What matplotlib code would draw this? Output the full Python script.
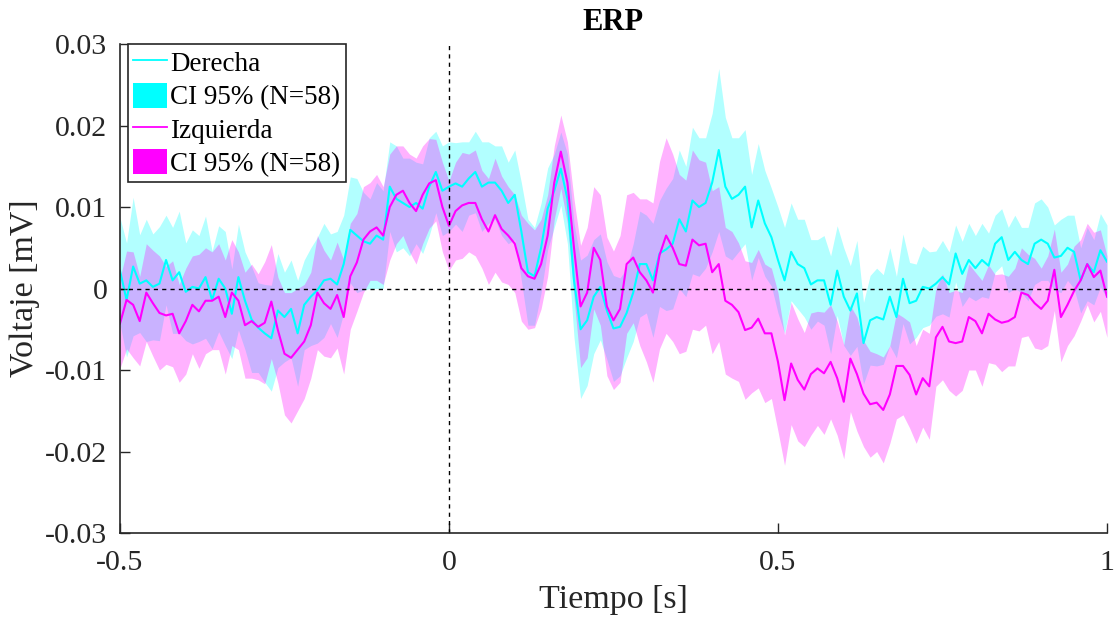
import numpy as np
import matplotlib
matplotlib.use("Agg")
import matplotlib.pyplot as plt
from matplotlib.lines import Line2D
from matplotlib.patches import Patch

plt.rcParams['font.family'] = ['Liberation Serif', 'DejaVu Serif']
plt.rcParams['axes.unicode_minus'] = False

# tiempo (s), paso de 10 ms
t_start, t_step = -0.5, 0.01

# medias (x1e-3 mV)
derecha = [
    2.2, -1.4, 2.7, 0.6, 1.0, 0.2, 0.6, 3.5, 1.0, 2.0,
    -0.4, 0.2, 0.0, 1.4, -1.4, 1.2, 0.0, -3.1, 1.4, -1.5,
    -3.8, -4.8, -5.5, -6.1, -2.7, -3.5, -2.5, -5.5, -2.0, -1.0,
    -0.2, 1.0, 1.2, 0.5, 3.0, 7.2, 6.5, 5.8, 5.5, 6.5,
    6.0, 12.5, 11.0, 10.5, 10.0, 10.5, 9.8, 12.5, 14.3, 12.0,
    12.5, 12.9, 12.5, 13.5, 14.3, 12.5, 13.0, 13.0, 12.0, 10.5,
    11.5, 7.0, 2.0, 1.5, 5.0, 9.8, 12.0, 14.7, 11.0, 1.0,
    -5.0, -3.9, -1.0, 0.2, -2.7, -4.9, -4.7, -3.0, -0.5, 3.0,
    3.0, 1.0, 4.3, 4.8, 5.5, 8.5, 7.0, 10.8, 10.0, 10.5,
    13.0, 17.0, 12.5, 11.0, 11.5, 12.5, 7.5, 10.8, 8.0, 6.3,
    3.5, 1.0, 4.5, 3.0, 2.5, 0.5, 1.0, 1.0, -2.0, 2.2,
    -1.0, -2.7, -0.6, -6.7, -3.9, -3.5, -3.8, -1.0, -3.5, 1.2,
    -1.8, -1.5, 0.2, 0.0, 0.6, 1.4, 0.5, 4.3, 1.8, 3.5,
    2.5, 3.5, 2.8, 5.5, 6.3, 3.5, 4.5, 3.5, 3.0, 5.5,
    6.0, 5.5, 3.8, 4.0, 5.0, 4.5, 1.0, 3.0, 2.0, 4.7,
    3.3,
]
izquierda = [
    -4.3, -1.4, -2.0, -4.0, -0.5, -1.8, -3.0, -3.3, -3.1, -5.5,
    -4.0, -2.0, -2.8, -1.5, -1.5, -1.0, -3.5, -0.5, -1.5, -4.5,
    -4.0, -4.7, -4.2, -1.6, -5.1, -8.0, -8.5, -7.5, -6.5, -4.5,
    -0.5, -1.8, -2.5, -0.8, -3.5, 1.5, 3.2, 6.0, 7.0, 7.5,
    6.5, 10.0, 11.5, 12.0, 10.5, 9.5, 11.5, 12.9, 13.3, 10.0,
    7.7, 9.5, 10.2, 10.5, 10.5, 8.5, 7.0, 9.0, 7.3, 6.5,
    5.5, 2.5, 1.5, 1.2, 3.0, 6.5, 13.0, 16.8, 13.0, 5.0,
    -2.2, -0.5, 5.0, 3.5, -2.2, -3.9, -2.5, 3.0, 3.8, 2.0,
    1.0, -0.5, 4.1, 6.5, 5.0, 3.0, 2.8, 6.0, 5.3, 5.5,
    2.0, 3.0, -1.5, -2.0, -2.9, -5.1, -4.8, -3.7, -5.5, -5.5,
    -9.0, -13.7, -9.2, -11.2, -12.4, -10.5, -9.8, -10.4, -9.0, -11.0,
    -13.9, -8.6, -10.5, -12.9, -14.2, -14.0, -14.9, -13.0, -9.5, -9.5,
    -10.6, -13.0, -11.0, -12.0, -6.0, -4.7, -6.5, -6.7, -6.5, -3.5,
    -4.0, -5.5, -3.1, -3.8, -4.2, -4.0, -3.5, -0.5, -0.8, -1.8,
    -2.5, -1.5, 2.3, -3.5, -2.0, -0.3, 1.0, 3.0, 1.4, 2.2,
    -1.0,
]

# semiancho del intervalo de confianza 95% (x1e-3 mV)
ci_derecha = [
    6.5, 7.0, 8.5, 6.0, 7.5, 6.5, 7.0, 5.5, 6.5, 7.5,
    6.0, 7.0, 6.5, 7.5, 6.0, 6.5, 7.0, 5.5, 6.5, 6.0,
    6.5, 5.5, 6.0, 6.5, 7.0, 5.5, 6.0, 6.5, 5.5, 6.0,
    6.5, 7.0, 5.5, 6.5, 6.0, 6.5, 7.0, 6.0, 5.5, 6.5,
    6.0, 5.5, 6.5, 5.5, 6.0, 5.0, 5.5, 6.0, 5.0, 5.5,
    5.5, 5.0, 5.5, 4.5, 5.0, 5.5, 5.0, 4.5, 5.5, 5.0,
    5.5, 6.0, 6.5, 6.0, 5.5, 5.0, 4.5, 4.5, 5.5, 7.0,
    8.5, 8.0, 7.0, 6.5, 6.0, 6.5, 6.0, 5.5, 6.0, 6.5,
    6.0, 7.0, 6.5, 7.5, 8.0, 8.5, 8.0, 9.0, 8.5, 8.0,
    8.5, 10.0, 8.5, 7.5, 7.0, 7.0, 6.5, 7.0, 6.5, 6.0,
    6.5, 6.5, 6.0, 5.5, 6.0, 5.5, 5.0, 5.5, 6.0, 5.5,
    6.0, 5.5, 6.5, 5.0, 5.5, 6.0, 5.5, 6.0, 5.0, 5.5,
    5.0, 4.5, 5.0, 4.5, 4.0, 4.5, 4.0, 3.5, 4.0, 4.5,
    4.0, 4.5, 4.0, 3.5, 3.5, 4.0, 4.5, 4.0, 4.5, 5.0,
    5.0, 4.5, 4.0, 4.5, 4.0, 4.5, 4.0, 4.5, 4.0, 4.5,
    4.5,
]
ci_izquierda = [
    5.5, 6.0, 6.5, 5.5, 6.0, 6.5, 7.0, 6.0, 6.5, 6.0,
    6.5, 6.0, 7.0, 6.5, 6.0, 6.5, 7.0, 6.5, 6.0, 6.5,
    7.0, 6.5, 7.5, 7.0, 6.5, 7.5, 8.0, 7.5, 7.0, 6.5,
    7.0, 6.5, 6.0, 6.5, 7.0, 6.5, 6.0, 6.5, 6.0, 6.5,
    6.0, 6.5, 6.0, 5.5, 6.0, 6.5, 6.0, 5.5, 5.0, 5.5,
    5.5, 6.0, 6.5, 6.0, 6.5, 6.0, 6.5, 7.0, 6.5, 6.0,
    6.0, 6.5, 6.5, 6.0, 5.5, 5.0, 4.5, 4.5, 5.0, 6.0,
    7.5, 8.0, 7.5, 8.0, 8.5, 8.5, 9.0, 8.5, 8.0, 9.0,
    10.0, 11.0, 11.5, 12.0, 11.5, 11.0, 10.5, 11.0, 10.5, 10.0,
    10.0, 9.5, 9.0, 9.0, 8.5, 8.5, 8.0, 8.5, 8.5, 8.0,
    8.5, 8.0, 7.5, 7.5, 7.0, 7.5, 7.0, 7.5, 7.0, 7.0,
    7.0, 6.5, 7.0, 6.5, 6.5, 6.0, 6.5, 6.0, 6.5, 6.0,
    6.5, 6.0, 6.0, 6.5, 6.0, 6.5, 6.0, 6.5, 6.0, 6.5,
    6.0, 6.5, 6.0, 5.5, 6.0, 5.5, 6.0, 5.5, 5.0, 5.5,
    5.0, 5.5, 5.0, 5.5, 5.0, 5.5, 5.0, 5.0, 5.5, 5.0,
    5.0,
]

x_ticks = [-0.5, 0, 0.5, 1]
x_labels = ['-0.5', '0', '0.5', '1']
y_ticks = [-0.03, -0.02, -0.01, 0, 0.01, 0.02, 0.03]
y_labels = ['-0.03', '-0.02', '-0.01', '0', '0.01', '0.02', '0.03']

t = t_start + t_step * np.arange(len(derecha))
m_d = np.array(derecha) * 1e-3
m_i = np.array(izquierda) * 1e-3
h_d = np.array(ci_derecha) * 1e-3
h_i = np.array(ci_izquierda) * 1e-3

fig = plt.figure(figsize=(11.15, 6.21), dpi=100)
ax = fig.add_axes([0.1076, 0.1417, 0.8852, 0.7874])

ax.fill_between(t, m_d - h_d, m_d + h_d, color=(0, 1, 1), alpha=0.3, lw=0)
ax.plot(t, m_d, color=(0, 1, 1), lw=1.5)
ax.fill_between(t, m_i - h_i, m_i + h_i, color=(1, 0, 1), alpha=0.3, lw=0)
ax.plot(t, m_i, color=(1, 0, 1), lw=1.5)

ax.axvline(0, color='k', ls=(0, (3, 3)), lw=1)
ax.axhline(0, color='k', ls=(0, (3, 3)), lw=1)

ax.set_xlim(-0.5, 1)
ax.set_ylim(-0.03, 0.03)
ax.set_xticks(x_ticks)
ax.set_xticklabels(x_labels)
ax.set_yticks(y_ticks)
ax.set_yticklabels(y_labels)
ax.tick_params(direction='in', length=7, width=1, labelsize=21.5, colors='#262626',
               labelcolor='#262626')
ax.tick_params(axis='x', pad=12)
ax.tick_params(axis='y', pad=9)

for side in ('top', 'right'):
    ax.spines[side].set_visible(False)
for side in ('left', 'bottom'):
    ax.spines[side].set_color('#262626')
    ax.spines[side].set_linewidth(1.2)

ax.set_xlabel('Tiempo [s]', fontsize=24.5, color='#262626', labelpad=6)
ax.set_ylabel('Voltaje [mV]', fontsize=24.5, color='#262626', labelpad=4)
ax.set_title('ERP', fontsize=22, fontweight='bold', pad=10)

handles = [
    Line2D([], [], color=(0, 1, 1), lw=1.3),
    Patch(facecolor=(0, 1, 1), edgecolor='none'),
    Line2D([], [], color=(1, 0, 1), lw=1.3),
    Patch(facecolor=(1, 0, 1), edgecolor='none'),
]
labels = ['Derecha', 'CI 95% (N=58)', 'Izquierda', 'CI 95% (N=58)']
leg = ax.legend(handles, labels, loc='upper left', bbox_to_anchor=(0.008, 1.0),
                fontsize=19.5, frameon=True, fancybox=False, framealpha=1,
                edgecolor='#262626', handlelength=1.25, handleheight=1.05,
                handletextpad=0.12, labelspacing=0.2, borderpad=0.2,
                borderaxespad=0)
leg.get_frame().set_linewidth(1.2)

fig.savefig('out.png', dpi=100)
